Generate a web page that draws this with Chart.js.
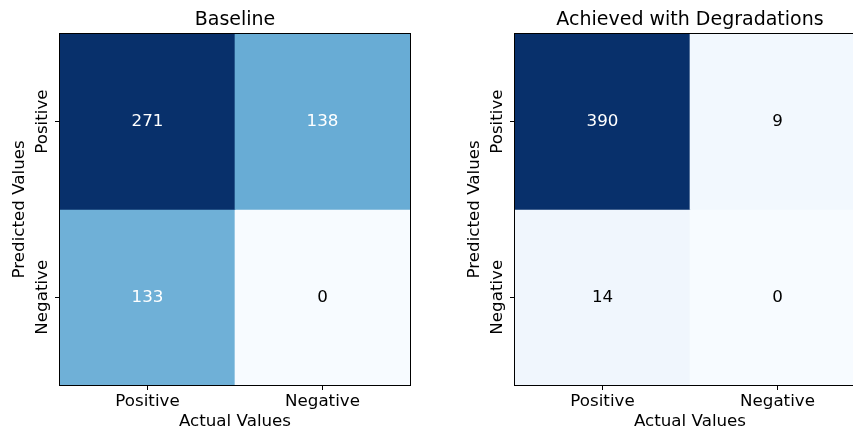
<!DOCTYPE html>
<html><head><meta charset="utf-8">
<script src="https://cdn.jsdelivr.net/npm/chart.js@4.4.0/dist/chart.umd.min.js"></script>
<style>
html,body{margin:0;padding:0;background:#fff;overflow:hidden;width:853px;height:430px}
#wrap{position:relative;width:853px;height:430px;overflow:hidden;background:#fff}
.box{position:absolute;top:0;width:430px;height:430px}
</style></head><body>
<div id="wrap">
<div class="box" style="left:0"><canvas id="c1" width="430" height="430"></canvas></div>
<div class="box" style="left:455px"><canvas id="c2" width="430" height="430"></canvas></div>
</div>
<script>
const actualLabels = ['Positive', 'Negative'];
const predictedLabels = ['Positive', 'Negative'];
const baselineTitle = 'Baseline';
const degradedTitle = 'Achieved with Degradations';
const baselineMatrix = [[271, 138], [133, 0]];
const degradedMatrix = [[390, 9], [14, 0]];
const xAxisTitle = 'Actual Values';
const yAxisTitle = 'Predicted Values';

const FAMILY = "'DejaVu Sans', sans-serif";
Chart.defaults.font.family = FAMILY;
Chart.defaults.color = '#000';

const bluesStops = ['#f7fbff','#deebf7','#c6dbef','#9ecae1','#6baed6','#4292c6','#2171b5','#08519c','#08306b'];
function hexToRgb(h){return [1,3,5].map(i=>parseInt(h.substr(i,2),16));}
function blues(t){
  t = Math.max(0, Math.min(1, t));
  const n = bluesStops.length - 1;
  const p = t * n;
  const i = Math.min(n - 1, Math.floor(p));
  const f = p - i;
  const a = hexToRgb(bluesStops[i]), b = hexToRgb(bluesStops[i+1]);
  return a.map((v,k)=>Math.round(v + (b[k]-v)*f));
}
function rgbStr(c){return 'rgb(' + c.join(',') + ')';}
function lum(c){
  const l = c.map(v=>{v/=255;return v<=0.03928? v/12.92 : Math.pow((v+0.055)/1.055,2.4);});
  return 0.2126*l[0]+0.7152*l[1]+0.0722*l[2];
}

function makeChart(id, title, matrix){
  const nRows = predictedLabels.length;
  const flat = matrix.flat();
  const mn = Math.min(...flat), mx = Math.max(...flat);
  const colorOf = v => blues((v - mn) / (mx - mn));
  const rowCenter = r => nRows - 1 - r + 0.5;

  const datasets = predictedLabels.map((p, r) => ({
    label: p,
    data: actualLabels.map(() => [nRows - 1 - r, nRows - r]),
    backgroundColor: matrix[r].map(v => rgbStr(colorOf(v))),
    borderWidth: 0,
    barPercentage: 1,
    categoryPercentage: 1,
    grouped: false
  }));

  const overlay = {
    id: 'overlay',
    afterDatasetsDraw(chart){
      const {ctx, chartArea, scales} = chart;
      ctx.save();
      ctx.font = '16.7px ' + FAMILY;
      ctx.textAlign = 'center';
      ctx.textBaseline = 'middle';
      matrix.forEach((row, r) => row.forEach((v, c) => {
        const col = colorOf(v);
        ctx.fillStyle = lum(col) < 0.408 ? '#fff' : '#000';
        ctx.fillText(String(v), scales.x.getPixelForValue(c), scales.y.getPixelForValue(rowCenter(r)));
      }));
      ctx.strokeStyle = '#000';
      ctx.lineWidth = 1;
      ctx.strokeRect(Math.round(chartArea.left) - 0.5, Math.round(chartArea.top) - 0.5,
        Math.round(chartArea.right - chartArea.left) + 1, Math.round(chartArea.bottom - chartArea.top) + 1);
      ctx.fillStyle = '#000';
      predictedLabels.forEach((lab, r) => {
        const y = scales.y.getPixelForValue(rowCenter(r));
        ctx.save();
        ctx.translate(chartArea.left - 17, y);
        ctx.rotate(-Math.PI / 2);
        ctx.fillText(lab, 0, 0);
        ctx.restore();
      });
      ctx.restore();
    }
  };

  return new Chart(document.getElementById(id), {
    type: 'bar',
    data: { labels: actualLabels, datasets },
    options: {
      responsive: false,
      animation: false,
      layout: { padding: { left: 0, right: 20, top: 0, bottom: 0 } },
      plugins: {
        legend: { display: false },
        tooltip: { enabled: false },
        title: {
          display: true, text: title, fullSize: false, color: '#000',
          font: { size: 19, weight: 'normal', family: FAMILY },
          padding: { top: 9, bottom: 2 }
        }
      },
      scales: {
        x: {
          type: 'category',
          offset: true,
          grid: { display: true, drawOnChartArea: false, offset: false, color: '#000', tickLength: 5, tickWidth: 1 },
          border: { display: false },
          ticks: { color: '#000', font: { size: 16.7 }, padding: 2, maxRotation: 0, minRotation: 0 },
          title: { display: true, text: xAxisTitle, color: '#000', font: { size: 16.7 }, padding: { top: 0, bottom: -1.5 } },
          afterFit: s => { s.height = 45; }
        },
        y: {
          type: 'linear', min: 0, max: 2,
          afterBuildTicks: s => { s.ticks = predictedLabels.map((_, r) => ({ value: rowCenter(r) })); },
          grid: { display: true, drawOnChartArea: false, color: '#000', tickLength: 5, tickWidth: 1 },
          border: { display: false },
          ticks: { display: false },
          title: { display: true, text: yAxisTitle, color: '#000', font: { size: 16.7 }, padding: { top: 10, bottom: 0 } },
          afterFit: s => { s.width = 60; }
        }
      }
    },
    plugins: [overlay]
  });
}

makeChart('c1', baselineTitle, baselineMatrix);
makeChart('c2', degradedTitle, degradedMatrix);
</script>
</body></html>
